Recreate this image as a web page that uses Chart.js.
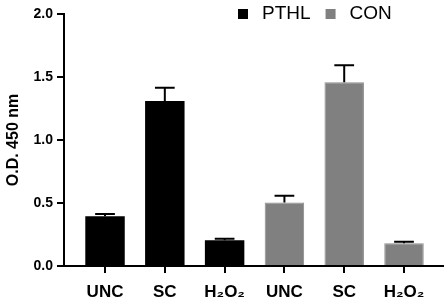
<!DOCTYPE html>
<html>
<head>
<meta charset="utf-8">
<script src="https://cdn.jsdelivr.net/npm/chart.js@4/dist/chart.umd.min.js"></script>
<style>
  html, body { margin: 0; padding: 0; background: #fff; }
  #wrap { width: 447px; height: 307px; position: relative; }
</style>
</head>
<body>
<div id="wrap"><canvas id="c" width="447" height="307"></canvas></div>
<script>
// ---- data ----
const categories = ["UNC", "SC", "H\u2082O\u2082", "UNC", "SC", "H\u2082O\u2082"];
const seriesNames = ["PTHL", "CON"];
const pthlPositions = [0, 1, 2];
const conPositions = [3, 4, 5];
const pthlValues = [0.395, 1.31, 0.205];
const pthlErrors = [0.018, 0.105, 0.012];
const conValues = [0.503, 1.458, 0.18];
const conErrors = [0.055, 0.135, 0.013];
const yTicks = [0, 0.5, 1.0, 1.5, 2.0];

const FONT = "'Liberation Sans', Arial, Helvetica, sans-serif";
const colors = ["#000000", "#808080"];

const errorBarPlugin = {
  id: "errorBars",
  afterDatasetsDraw(chart) {
    const ctx = chart.ctx;
    const yScale = chart.scales.y;
    chart.data.datasets.forEach((ds, di) => {
      const meta = chart.getDatasetMeta(di);
      meta.data.forEach((el, i) => {
        const v = ds.data[i].y;
        const e = ds.errors[i];
        const yTop = yScale.getPixelForValue(v + e);
        const half = el.width / 4;
        ctx.save();
        ctx.strokeStyle = "#000";
        ctx.lineWidth = 2;
        ctx.beginPath();
        ctx.moveTo(el.x, el.y);
        ctx.lineTo(el.x, yTop);
        ctx.moveTo(el.x - half, yTop);
        ctx.lineTo(el.x + half, yTop);
        ctx.stroke();
        ctx.restore();
      });
    });
  }
};

const legendPlugin = {
  id: "customLegend",
  afterDraw(chart) {
    const ctx = chart.ctx;
    const area = chart.chartArea;
    ctx.save();
    ctx.font = "19px " + FONT;
    ctx.textBaseline = "middle";
    ctx.textAlign = "left";
    let x = area.right - 205;
    const yMid = area.top;
    seriesNames.forEach((name, i) => {
      ctx.fillStyle = colors[i];
      ctx.fillRect(x, yMid - 5, 10, 10);
      ctx.fillStyle = "#000";
      ctx.fillText(name, x + 24, yMid);
      x += 24 + ctx.measureText(name).width + 15;
    });
    ctx.restore();
  }
};

new Chart(document.getElementById("c"), {
  type: "bar",
  data: {
    datasets: [
      {
        label: seriesNames[0],
        data: pthlPositions.map((p, i) => ({ x: p, y: pthlValues[i] })),
        errors: pthlErrors,
        backgroundColor: colors[0],
        borderColor: "#000",
        borderWidth: 0,
        grouped: false,
        categoryPercentage: 1,
        barPercentage: 0.66
      },
      {
        label: seriesNames[1],
        data: conPositions.map((p, i) => ({ x: p, y: conValues[i] })),
        errors: conErrors,
        backgroundColor: colors[1],
        borderColor: "#8c8c8c",
        borderWidth: 1,
        grouped: false,
        categoryPercentage: 1,
        barPercentage: 0.66
      }
    ]
  },
  options: {
    responsive: false,
    animation: false,
    devicePixelRatio: 1,
    layout: { padding: { top: 14, right: 4, bottom: 0, left: 0 } },
    plugins: {
      legend: { display: false },
      tooltip: { enabled: false }
    },
    scales: {
      x: {
        type: "linear",
        offset: false,
        min: -0.686,
        max: 5.652,
        afterBuildTicks(scale) {
          scale.ticks = categories.map((c, i) => ({ value: i }));
        },
        afterFit(scale) { scale.height = 41; },
        ticks: {
          includeBounds: false,
          stepSize: 1,
          autoSkip: false,
          maxRotation: 0,
          padding: 9,
          color: "#000",
          font: { family: FONT, size: 17, weight: "bold" },
          callback: (v) => categories[v]
        },
        grid: {
          offset: false,
          drawOnChartArea: false,
          drawTicks: true,
          tickLength: 7,
          color: "#000",
          lineWidth: 2
        },
        border: { color: "#000", width: 2 }
      },
      y: {
        min: 0,
        max: 2,
        afterBuildTicks(scale) {
          scale.ticks = yTicks.map(v => ({ value: v }));
        },
        afterFit(scale) { scale.width = 64; },
        ticks: {
          stepSize: 0.5,
          padding: 4,
          color: "#000",
          font: { family: FONT, size: 14, weight: "bold" },
          callback: (v) => Number(v).toFixed(1)
        },
        grid: {
          drawOnChartArea: false,
          drawTicks: true,
          tickLength: 7,
          color: "#000",
          lineWidth: 2
        },
        border: { color: "#000", width: 2 },
        title: {
          display: true,
          text: "O.D. 450 nm",
          color: "#000",
          font: { family: FONT, size: 16, weight: "bold" },
          padding: { top: 4, bottom: 4 }
        }
      }
    }
  },
  plugins: [errorBarPlugin, legendPlugin]
});
</script>
</body>
</html>
